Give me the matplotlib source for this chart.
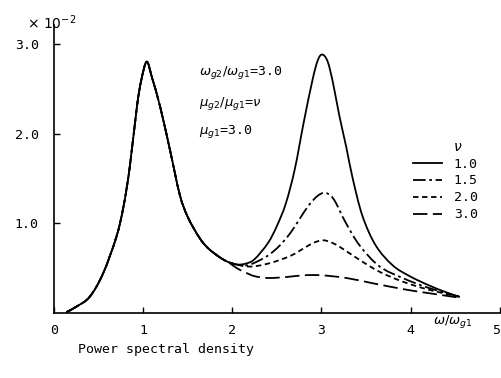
import matplotlib
matplotlib.use("Agg")
import matplotlib.pyplot as plt
from matplotlib.path import Path
from matplotlib.patches import PathPatch
from matplotlib.lines import Line2D

plt.rcParams['font.family'] = 'DejaVu Sans Mono'
plt.rcParams['mathtext.fontset'] = 'dejavusans'

# shared part of the curve (all nu values coincide here)
x_common = [0.14, 0.25, 0.40, 0.55, 0.70, 0.78, 0.85, 0.93, 0.98, 1.04,
            1.10, 1.19, 1.30, 1.41, 1.50, 1.63, 1.73, 1.86]
y_common = [0.01, 0.07, 0.18, 0.44, 0.85, 1.19, 1.63, 2.30, 2.60, 2.80,
            2.62, 2.30, 1.82, 1.32, 1.07, 0.84, 0.72, 0.62]

# branches after the trough
x_nu10 = [1.95, 2.05, 2.15, 2.25, 2.40, 2.50, 2.60, 2.70, 2.80, 2.90, 2.96,
          3.01, 3.07, 3.13, 3.20, 3.28, 3.35, 3.46, 3.61, 3.80, 3.99, 4.20,
          4.40, 4.55]
y_nu10 = [0.57, 0.54, 0.55, 0.60, 0.78, 0.97, 1.22, 1.60, 2.12, 2.60, 2.82,
          2.88, 2.80, 2.56, 2.20, 1.84, 1.50, 1.08, 0.75, 0.53, 0.41, 0.31,
          0.23, 0.18]

x_nu15 = [1.95, 2.05, 2.15, 2.25, 2.40, 2.53, 2.65, 2.75, 2.85, 2.95, 3.03,
          3.10, 3.16, 3.27, 3.43, 3.65, 3.91, 4.20, 4.55]
y_nu15 = [0.57, 0.54, 0.53, 0.56, 0.64, 0.75, 0.89, 1.04, 1.19, 1.30, 1.34,
          1.31, 1.23, 1.01, 0.75, 0.52, 0.39, 0.28, 0.18]

x_nu20 = [1.95, 2.05, 2.15, 2.25, 2.40, 2.53, 2.66, 2.75, 2.85, 2.93, 3.02,
          3.10, 3.20, 3.43, 3.65, 3.91, 4.20, 4.55]
y_nu20 = [0.57, 0.54, 0.52, 0.52, 0.55, 0.59, 0.64, 0.69, 0.75, 0.79, 0.81,
          0.79, 0.74, 0.59, 0.46, 0.35, 0.26, 0.18]

x_nu30 = [1.95, 2.05, 2.15, 2.25, 2.40, 2.60, 2.80, 3.00, 3.28, 3.58, 3.95,
          4.21, 4.55]
y_nu30 = [0.57, 0.50, 0.45, 0.41, 0.39, 0.40, 0.42, 0.42, 0.39, 0.33, 0.26,
          0.22, 0.17]

nu_labels = ['1.0', '1.5', '2.0', '3.0']
xticks = [0, 1, 2, 3, 4, 5]
yticks = [1.0, 2.0, 3.0]


def smooth_path(xs, ys):
    # catmull-rom through the read points, drawn as bezier segments
    pts = list(zip(xs, ys))
    n = len(pts)
    verts = [pts[0]]
    codes = [Path.MOVETO]
    for i in range(n - 1):
        p0 = pts[max(i - 1, 0)]
        p1 = pts[i]
        p2 = pts[i + 1]
        p3 = pts[min(i + 2, n - 1)]
        c1 = (p1[0] + (p2[0] - p0[0]) / 6, p1[1] + (p2[1] - p0[1]) / 6)
        c2 = (p2[0] - (p3[0] - p1[0]) / 6, p2[1] - (p3[1] - p1[1]) / 6)
        verts += [c1, c2, p2]
        codes += [Path.CURVE4] * 3
    return Path(verts, codes)


fig = plt.figure(figsize=(5.02, 3.78), dpi=100)
ax = fig.add_axes([0.1076, 0.172, 0.888, 0.762])

lw = 1.3
styles = ['-', (0, (7, 2, 1.5, 2)), (0, (3, 2)), (0, (8, 3))]
branches = [(x_nu10, y_nu10), (x_nu15, y_nu15), (x_nu20, y_nu20), (x_nu30, y_nu30)]
handles = []
for (xs, ys), ls, lab in zip(branches, styles, nu_labels):
    p = smooth_path(x_common + xs, y_common + ys)
    ax.add_patch(PathPatch(p, fill=False, edgecolor='black', lw=lw, ls=ls))
    handles.append(Line2D([], [], color='black', lw=lw, ls=ls, label=lab))

ax.set_xlim(0, 5)
ax.set_ylim(0, 3.21)
ax.set_xticks(xticks)
ax.set_yticks(yticks)
ax.set_xticklabels([str(t) for t in xticks])
ax.set_yticklabels(['%.1f' % t for t in yticks])
ax.tick_params(direction='in', length=4, width=1, labelsize=9.5)
ax.tick_params(axis='y', pad=11)
ax.tick_params(axis='x', pad=8)
ax.get_xticklabels()[-1].set_horizontalalignment('right')
for s in ['top', 'right']:
    ax.spines[s].set_visible(False)
for s in ['left', 'bottom']:
    ax.spines[s].set_linewidth(1.2)

ax.text(-0.30, 3.23, r'$\times\ 10^{-2}$', fontsize=10, va='center')

ax.text(1.63, 2.68, r'$\omega_{g2}/\omega_{g1}$=3.0', fontsize=9.5, va='center')
ax.text(1.63, 2.33, r'$\mu_{g2}/\mu_{g1}$=$\nu$', fontsize=9.5, va='center')
ax.text(1.63, 2.02, r'$\mu_{g1}$=3.0', fontsize=9.5, va='center')

leg = ax.legend(handles=handles, title=r'$\nu$', loc='upper left',
                bbox_to_anchor=(0.79, 0.625), frameon=False, fontsize=9.5,
                handlelength=2.2, handletextpad=0.9, labelspacing=0.3,
                borderpad=0)
leg.get_title().set_position((12, 0))

ax.text(4.25, -0.10, r'$\omega/\omega_{g1}$', fontsize=9.5, va='center')
fig.text(0.33, 0.075, 'Power spectral density', fontsize=9.5, ha='center', va='center')

fig.savefig('out.png', dpi=100)
